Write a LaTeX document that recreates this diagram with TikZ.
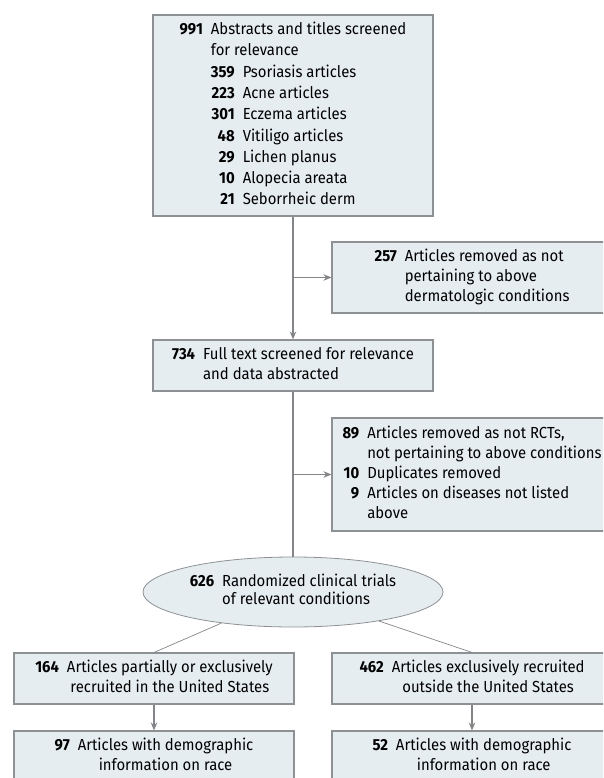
\documentclass[tikz,border=0pt]{standalone}
\usepackage{fontspec}
\setmainfont{Fira Sans}[FakeStretch=0.93]
\usetikzlibrary{shapes.geometric, arrows.meta}
\definecolor{boxfill}{HTML}{E6EDF1}
\definecolor{boxline}{HTML}{8E9194}
\definecolor{linkgray}{HTML}{838588}
\tikzset{
	flowbox/.style={
		draw=boxline, fill=boxfill, line width=1.1pt,
		minimum width=280pt, minimum height=#1, inner sep=0pt,
	},
	flowbox/.default=51pt,
	trialoval/.style={
		ellipse, draw=boxline, fill=boxfill, line width=0.8pt,
		minimum width=300pt, minimum height=70pt, inner sep=0pt,
		font=\fontsize{16}{18}\selectfont,
	},
	link/.style={draw=linkgray, line width=1.1pt},
	thinlink/.style={draw=linkgray, line width=0.7pt},
	arrowlink/.style={link, -{Stealth[length=8pt,width=6.5pt]}},
}
\newcommand{\cnt}[1]{\textbf{#1}}
\newcommand{\gap}{@{\hspace{8pt}}}

\begin{document}
\begin{tikzpicture}[x=1pt, y=-1pt, font=\fontsize{16}{20}\selectfont]
	\useasboundingbox (0,0) rectangle (603,778);
	\clip (0,0) rectangle (603,778);
	% main column
	\node[flowbox=201pt, font=\fontsize{16}{21.3}\selectfont] (screen) at (293,115.5) {%
		\begin{tabular}{@{}r\gap r\gap l@{}}
			\cnt{991} & \multicolumn{2}{@{}l@{}}{Abstracts and titles screened}\\
			& \multicolumn{2}{@{}l@{}}{for relevance}\\
			& \cnt{359} & Psoriasis articles\\
			& \cnt{223} & Acne articles\\
			& \cnt{301} & Eczema articles\\
			& \cnt{48} & Vitiligo articles\\
			& \cnt{29} & Lichen planus\\
			& \cnt{10} & Alopecia areata\\
			& \cnt{21} & Seborrheic derm
		\end{tabular}};
	\node[flowbox=71pt] (removedA) at (472,277.5) {%
		\begin{tabular}{@{}r\gap l@{}}
			\cnt{257} & Articles removed as not\\
			& pertaining to above\\
			& dermatologic conditions
		\end{tabular}};
	\node[flowbox] (fulltext) at (293,365.5) {%
		\begin{tabular}{@{}r\gap l@{}}
			\cnt{734} & Full text screened for relevance\\
			& and data abstracted
		\end{tabular}};
	\node[flowbox=113pt] (removedB) at (472,474.5) {%
		\begin{tabular}{@{}r\gap l@{}}
			\cnt{89} & Articles removed as not RCTs,\\
			& not pertaining to above conditions\\
			\cnt{10} & Duplicates removed\\
			\cnt{9} & Articles on diseases not listed\\
			& above
		\end{tabular}};
	\node[trialoval] (trials) at (293,592) {%
		\begin{tabular}{@{}r\gap l@{}}
			\cnt{626} & Randomized clinical trials\\
			& of relevant conditions
		\end{tabular}};
	% the two branches
	\node[flowbox] (inus) at (154,678.5) {%
		\begin{tabular}{@{}r\gap c@{}}
			\cnt{164} & Articles partially or exclusively\\
			& recruited in the United States
		\end{tabular}};
	\node[flowbox] (outus) at (472,678.5) {%
		\begin{tabular}{@{}r\gap c@{}}
			\cnt{462} & Articles exclusively recruited\\
			& outside the United States
		\end{tabular}};
	\node[flowbox] (inusrace) at (154,756.5) {%
		\begin{tabular}{@{}r\gap c@{}}
			\cnt{97} & Articles with demographic\\
			& information on race
		\end{tabular}};
	\node[flowbox] (outusrace) at (472,756.5) {%
		\begin{tabular}{@{}r\gap c@{}}
			\cnt{52} & Articles with demographic\\
			& information on race
		\end{tabular}};
	% connectors
	\coordinate (forkA) at (screen.south |- removedA.west);
	\coordinate (forkB) at (fulltext.south |- removedB.west);
	\draw[arrowlink] (screen) -- (fulltext);
	\draw[arrowlink] (forkA) -- (removedA);
	\draw[link] (fulltext) -- (trials);
	\draw[arrowlink] (forkB) -- (removedB);
	\draw[thinlink] (trials) -- (inus.north);
	\draw[thinlink] (trials) -- (outus.north);
	\draw[arrowlink] (inus) -- (inusrace);
	\draw[arrowlink] (outus) -- (outusrace);
\end{tikzpicture}
\end{document}
